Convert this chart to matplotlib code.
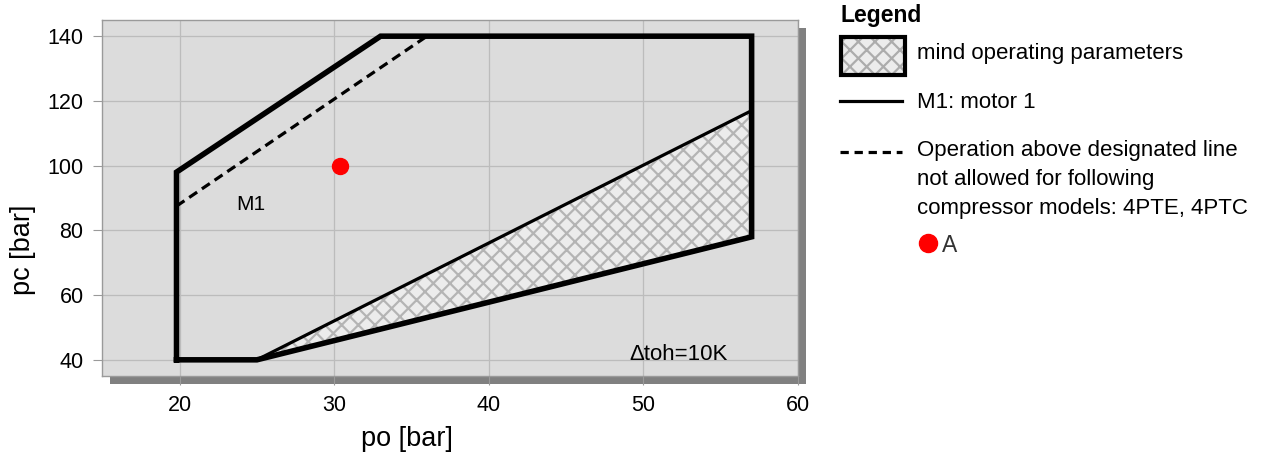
import matplotlib
matplotlib.use('Agg')
import matplotlib.pyplot as plt
from matplotlib.patches import Rectangle, Polygon

plt.rcParams['font.family'] = ['Liberation Sans', 'DejaVu Sans']
plt.rcParams['hatch.linewidth'] = 1.6

# operating envelope (po, pc in bar)
env_po = [19.8, 19.8, 33, 57, 57, 25, 19.8]
env_pc = [40, 98, 140, 140, 78, 40, 40]

# dashed limit for 4PTE, 4PTC
dash_po = [19.8, 36]
dash_pc = [87.5, 140]

# "mind operating parameters" zone
zone_po = [25, 57, 57]
zone_pc = [40, 117, 78]

# operating point A
point_po = [30.4]
point_pc = [100]

x_ticks = [20, 30, 40, 50, 60]
y_ticks = [40, 60, 80, 100, 120, 140]

W, H = 1272, 462
fig = plt.figure(figsize=(W / 100, H / 100), dpi=100)

# axes box in pixels
left, top, right, bottom = 102.3, 20, 798, 376
ax = fig.add_axes([left / W, 1 - bottom / H, (right - left) / W, (bottom - top) / H])
ax.set_zorder(1)

# drop shadow behind the plot area
shadow = Rectangle(((left + 8) / W, 1 - (bottom + 8) / H), (right - left) / W, (bottom - top) / H,
                   transform=fig.transFigure, facecolor='#808080', edgecolor='none', zorder=-1)
fig.add_artist(shadow)

ax.set_facecolor('#dcdcdc')
ax.set_xlim(15, 60)
ax.set_ylim(35, 145)
ax.set_xticks(x_ticks)
ax.set_yticks(y_ticks)
ax.grid(True, color='#bcbcbc', linewidth=0.9)
ax.set_axisbelow(True)
for s in ax.spines.values():
    s.set_color('#9a9a9a')
    s.set_linewidth(1.0)
ax.tick_params(direction='out', length=6.5, width=0.8, color='#9a9a9a',
               labelsize=15.5, pad=7, labelcolor='black')

# hatched zone
zone = Polygon(list(zip(zone_po, zone_pc)), closed=True, facecolor='#ececec',
               edgecolor='#b4b4b4', hatch='xx', linewidth=0, zorder=2)
ax.add_patch(zone)
ax.plot(zone_po[:2], zone_pc[:2], color='black', linewidth=2.3, zorder=3)

# envelope and dashed limit
ax.plot(env_po, env_pc, color='black', linewidth=4.0, solid_joinstyle='miter', zorder=4)
ax.plot(dash_po, dash_pc, color='black', linewidth=2.3, dashes=(3.0, 1.8), zorder=4)
ax.plot(point_po, point_pc, 'o', color='red', markersize=11.5, zorder=5)

ax.text(24.6, 88.0, 'M1', fontsize=15, ha='center', va='center', zorder=5)
ax.text(49.1, 39.9, 'Δtoh=10K', fontsize=16, ha='left', va='baseline', zorder=5)

ax.set_xlabel('po [bar]', fontsize=19.5)
ax.set_ylabel('pc [bar]', fontsize=19.5)
ax.xaxis.set_label_coords((407 - left) / (right - left), -(426 - bottom) / (bottom - top))
ax.yaxis.set_label_coords(-(left - 36) / (right - left), (bottom - 250) / (bottom - top))

# legend drawn in pixel coordinates on the right
lax = fig.add_axes([820 / W, 0, (W - 820) / W, 1])
lax.set_xlim(820, W)
lax.set_ylim(H, 0)
lax.axis('off')

lax.text(841, 22, 'Legend', fontsize=16.5, fontweight='bold', va='baseline')
lax.add_patch(Rectangle((841, 37), 64, 38, facecolor='#ececec', edgecolor='#acacac',
                        hatch='xx', linewidth=0))
lax.add_patch(Rectangle((841, 37), 64, 38, facecolor='none', edgecolor='black', linewidth=3.0))
lax.text(917, 59.3, 'mind operating parameters', fontsize=16, va='baseline')
lax.plot([840, 902], [101, 101], color='black', linewidth=2.3)
lax.text(917, 108.3, 'M1: motor 1', fontsize=16, va='baseline')
lax.plot([840, 902], [152, 152], color='black', linewidth=2.3, dashes=(2.6, 1.8))
note = ['Operation above designated line', 'not allowed for following',
        'compressor models: 4PTE, 4PTC']
for i, line in enumerate(note):
    lax.text(917, 156 + 29 * i, line, fontsize=16, va='baseline')
lax.plot([928], [243], 'o', color='red', markersize=13)
lax.text(942, 252, 'A', fontsize=16.5, va='baseline', color='#333333')

fig.savefig('out.png', dpi=100)
